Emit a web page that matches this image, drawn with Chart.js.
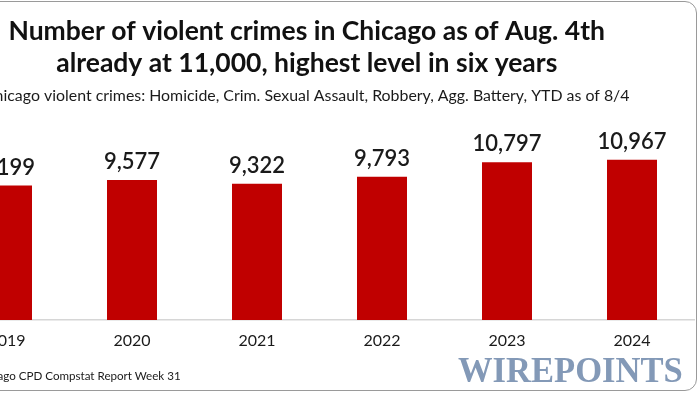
<!DOCTYPE html>
<html>
<head>
<meta charset="utf-8">
<script src="https://cdn.jsdelivr.net/npm/chart.js@4.4.1/dist/chart.umd.min.js"></script>
<style>
  html, body { margin: 0; padding: 0; background: #fff; overflow: hidden; }
  body { width: 700px; height: 394px; position: relative; }
  #frame {
    position: absolute; left: -81px; top: 1px; width: 776px; height: 388px;
    border: 1.5px solid #9a9a9a; border-radius: 12px;
  }
  #wrap { position: absolute; left: -81px; top: 0; width: 779px; height: 394px; }
  #source {
    position: absolute; left: -25px; top: 369px;
    font-family: Lato, sans-serif; font-size: 11.6px; color: #1a1a1a; white-space: nowrap;
  }
  #logo {
    position: absolute; left: 458px; top: 349px;
    font-family: "Liberation Serif", serif; font-weight: bold; font-size: 36px;
    color: #8399b7; transform-origin: left top; transform: scaleX(0.96);
    white-space: nowrap;
  }
</style>
</head>
<body>
<div id="frame"></div>
<div id="wrap"><canvas id="crimes"></canvas></div>
<div id="source">Chicago CPD Compstat Report Week 31</div>
<div id="logo">WIREPOINTS</div>
<script>
// Chicago violent crimes YTD as of 8/4
const years = ['2019', '2020', '2021', '2022', '2023', '2024'];
const crimes = [9199, 9577, 9322, 9793, 10797, 10967];

const titleLines = ['Number of violent crimes in Chicago as of Aug. 4th', 'already at 11,000, highest level in six years'];
const subtitleText = 'Chicago violent crimes: Homicide, Crim. Sexual Assault, Robbery, Agg. Battery, YTD as of 8/4';

// numbers above the bars
const barLabels = {
  id: 'barLabels',
  afterDatasetsDraw(chart) {
    const c = chart.ctx;
    const meta = chart.getDatasetMeta(0);
    c.save();
    c.font = '600 22px Lato, sans-serif';
    c.fillStyle = '#1a1a1a';
    c.textAlign = 'center';
    c.textBaseline = 'alphabetic';
    meta.data.forEach(function (bar, i) {
      c.fillText(crimes[i].toLocaleString('en-US'), bar.x, bar.y - 11);
    });
    c.restore();
  }
};

const ctx = document.getElementById('crimes').getContext('2d');
const crimesChart = new Chart(ctx, {
  type: 'bar',
  plugins: [barLabels],
  data: {
    labels: years,
    datasets: [{
      data: crimes,
      backgroundColor: '#c00000',
      borderWidth: 0,
      barPercentage: 0.4,
      categoryPercentage: 1
    }]
  },
  options: {
    responsive: true,
    maintainAspectRatio: false,
    animation: false,
    layout: { padding: { left: 0, right: 3.5, top: 0, bottom: 40 } },
    scales: {
      x: {
        grid: { display: false },
        border: { display: true, color: '#d6d6d6', width: 1.5 },
        ticks: { padding: 3.4, color: '#1a1a1a', font: { family: 'Lato', size: 16 } }
      },
      y: {
        min: 0,
        max: 11937,
        grid: { display: false },
        border: { display: false },
        ticks: { display: false },
        afterFit: function (scale) { scale.width = 25.5; }
      }
    },
    plugins: {
      legend: { display: false },
      tooltip: { enabled: false },
      title: {
        display: true,
        text: titleLines,
        color: '#111',
        font: { family: 'Lato', size: 26.5, weight: '700', lineHeight: 1.2 },
        padding: { top: 16, bottom: 7 }
      },
      subtitle: {
        display: true,
        text: subtitleText,
        color: '#1a1a1a',
        font: { family: 'Lato', size: 15.9, lineHeight: 1.2 },
        padding: { top: 0, bottom: 39.8 }
      }
    }
  }
});
</script>
</body>
</html>
